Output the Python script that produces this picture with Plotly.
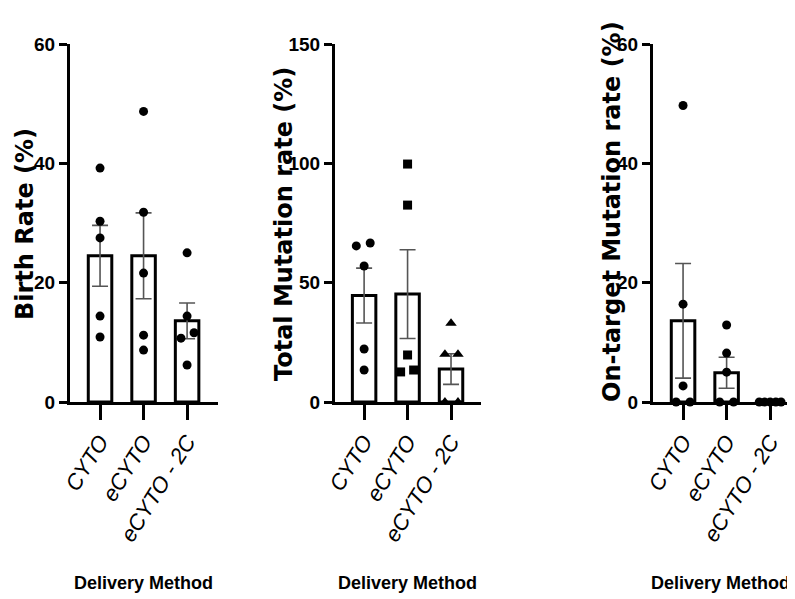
import plotly.graph_objects as go

OFF = 8  # default page body margin
W, H = 795 - OFF, 599 - OFF

categories = ["CYTO", "eCYTO", "eCYTO - 2C"]
x_title = "Delivery Method"

# Panel 1: Birth Rate (%)
birth_cyto = [39.2, 30.3, 27.5, 14.4, 10.9]
birth_ecyto = [48.7, 31.8, 21.6, 11.2, 8.7]
birth_2c = [25.0, 14.4, 11.6, 10.7, 6.2]
birth_mean = [24.5, 24.5, 13.6]
birth_sem = [5.1, 7.2, 3.0]

# Panel 2: Total Mutation rate (%)
total_cyto = [65.4, 66.6, 57.0, 22.2, 13.4]
total_ecyto = [99.7, 82.5, 19.7, 12.6, 13.4]
total_2c = [33.0, 20.0, 20.0, 0.0, 0.0]
total_mean = [44.6, 45.2, 13.8]
total_sem = [11.5, 18.6, 6.4]

# Panel 3: On-target Mutation rate (%)
ont_cyto = [49.7, 16.4, 2.7, 0.0, 0.0]
ont_ecyto = [12.9, 8.2, 5.0, 0.0, 0.0]
ont_2c = [0.0, 0.0, 0.0, 0.0, 0.0]
ont_mean = [13.6, 4.9, 0.0]
ont_sem = [9.6, 2.6, 0.0]

y_titles = ["Birth Rate (%)", "Total Mutation rate (%)", "On-target Mutation rate (%)"]
y_ticks = [[0, 20, 40, 60], [0, 50, 100, 150], [0, 20, 40, 60]]
y_ranges = [[0, 60], [0, 150], [0, 60]]

# horizontal jitter of the scatter points (axis units)
jit_birth = [[0, 0, 0, 0, 0], [0, 0, 0, 0, 0], [0, 0, 0.16, -0.14, 0]]
jit_total = [[-0.18, 0.14, 0, 0, 0], [0, 0, 0, -0.16, 0.14], [0, -0.14, 0.16, -0.14, 0.16]]
jit_ont = [[0, 0, 0, -0.16, 0.16], [0, 0, 0, -0.16, 0.16], [-0.25, -0.13, 0, 0.13, 0.25]]

panels = [
    dict(groups=[birth_cyto, birth_ecyto, birth_2c], mean=birth_mean, sem=birth_sem,
         jit=jit_birth, symbols=["circle", "circle", "circle"]),
    dict(groups=[total_cyto, total_ecyto, total_2c], mean=total_mean, sem=total_sem,
         jit=jit_total, symbols=["circle", "square", "triangle-up"]),
    dict(groups=[ont_cyto, ont_ecyto, ont_2c], mean=ont_mean, sem=ont_sem,
         jit=jit_ont, symbols=["circle", "circle", "circle"]),
]

# layout in page pixels (converted to figure coordinates below)
x_dom_px = [(70, 218), (335, 481), (653, 795)]
x_ranges = [[-0.69, 2.71], [-0.67, 2.69], [-0.69, 2.57]]
y_top_px, y_bot_px = 44, 402
ytitle_pos = [(25, 224), (284, 224), (612, 212)]
xtitle_pos = [(143, 583, "center"), (407, 583, "center"), (792, 583, "right")]


def fx(px):
    return (px - OFF) / W


def fy(py):
    return 1 - (py - OFF) / H


ARIAL = "Liberation Sans, Arial, sans-serif"

fig = go.Figure()
layout = dict(
    width=W, height=H, margin=dict(l=0, r=0, t=0, b=0, pad=0),
    paper_bgcolor="white", plot_bgcolor="white", showlegend=False,
    annotations=[],
)

pos = [0, 1, 2]
for i, p in enumerate(panels):
    n = "" if i == 0 else str(i + 1)
    xa, ya = "x" + n, "y" + n
    fig.add_trace(go.Bar(
        x=pos, y=p["mean"], xaxis=xa, yaxis=ya, width=0.54,
        marker=dict(color="white", line=dict(color="black", width=3)),
        error_y=dict(type="data", array=p["sem"], visible=True,
                     color="#555555", thickness=1.6, width=8),
    ))
    for g, vals in enumerate(p["groups"]):
        fig.add_trace(go.Scatter(
            x=[pos[g] + j for j in p["jit"][g]], y=vals, xaxis=xa, yaxis=ya,
            mode="markers", cliponaxis=False,
            marker=dict(symbol=p["symbols"][g], color="black",
                        size=10 if p["symbols"][g] == "triangle-up" else 9),
        ))
    x0, x1 = x_dom_px[i]
    layout["xaxis" + n] = dict(
        domain=[fx(x0), min(1.0, fx(x1))], range=x_ranges[i], anchor=ya,
        tickmode="array", tickvals=pos, ticktext=categories, tickangle=-58,
        ticks="outside", ticklen=15, tickwidth=2.5, tickcolor="black",
        showline=True, linewidth=3, linecolor="black", showgrid=False, zeroline=False,
        tickfont=dict(family=ARIAL, size=22, color="black", style="italic"),
        automargin=False, fixedrange=True,
    )
    layout["yaxis" + n] = dict(
        domain=[fy(y_bot_px), fy(y_top_px)], range=y_ranges[i], anchor=xa,
        tickmode="array", tickvals=y_ticks[i],
        ticks="outside", ticklen=8, tickwidth=3, tickcolor="black",
        showline=True, linewidth=3, linecolor="black", showgrid=False, zeroline=False,
        tickfont=dict(family=ARIAL, size=19, color="black", weight="bold"),
        automargin=False, fixedrange=True,
    )
    tx, ty = ytitle_pos[i]
    layout["annotations"].append(dict(
        text=y_titles[i], x=fx(tx), y=fy(ty), xref="paper", yref="paper",
        xanchor="center", yanchor="middle", textangle=-90, showarrow=False,
        font=dict(family="DejaVu Sans, sans-serif", size=24, color="black", weight="bold"),
    ))
    hx, hy, anc = xtitle_pos[i]
    layout["annotations"].append(dict(
        text=x_title, x=fx(hx), y=fy(hy), xref="paper", yref="paper",
        xanchor=anc, yanchor="middle", showarrow=False,
        font=dict(family=ARIAL, size=18, color="black", weight="bold"),
    ))

fig.update_layout(**layout)
fig.write_html("out.html")
